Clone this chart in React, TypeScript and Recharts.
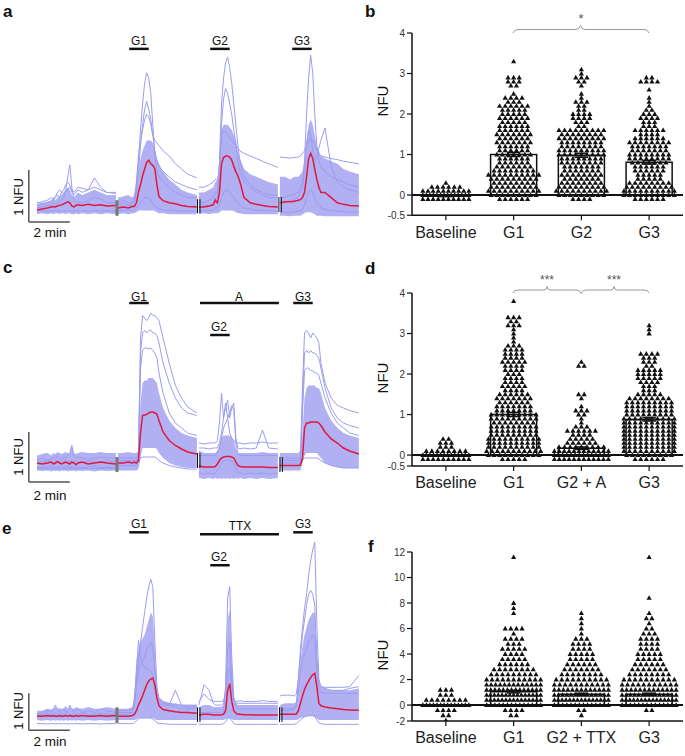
import React from 'react';
import { ComposedChart, Area, Line, XAxis, YAxis, ReferenceLine, ReferenceArea, ScatterChart, Scatter } from 'recharts';

const FONT = '"Liberation Sans", Arial, Helvetica, sans-serif';
const BLUE = '#9c9cef';
const BAND = '#a9a9f2';
const RED = '#e0193c';

// ---------- time grid (minutes) ----------
const REL_TIMES = [0, 0.25, 0.5, 0.7, 0.8, 0.9, 1.0, 1.1, 1.2, 1.3, 1.4, 1.5, 1.6, 1.7, 1.8, 1.9, 2.0, 2.2, 2.5, 2.8, 3.1, 3.4, 3.85];
const SEG_STARTS = [0, 3.95, 7.9, 11.85];

// ---------- panel a traces (NFU) ----------
const A_MEAN = [
  [-0.04,-0.02,0.0,0.02,0.03,0.02,0.04,0.05,0.06,0.08,0.1,0.12,0.1,0.04,0.02,0.05,0.06,0.05,0.07,0.05,0.06,0.04,0.05],
  [0.0,0.02,0.0,0.03,0.03,0.1,0.3,0.45,0.62,0.75,0.88,0.92,0.85,0.82,0.75,0.45,0.22,0.14,0.1,0.08,0.05,0.03,0.02],
  [0.02,0.02,0.04,0.06,0.15,0.1,0.3,0.85,0.97,1.0,1.0,0.98,0.92,0.8,0.7,0.62,0.5,0.2,0.1,0.07,0.05,0.03,0.02],
  [0.1,0.12,0.12,0.13,0.14,0.15,0.16,0.2,0.3,0.6,0.95,1.05,0.95,0.75,0.55,0.4,0.3,0.3,0.2,0.1,0.07,0.05,0.04],
];
const A_LO = [
  [-0.12,-0.1,-0.12,-0.1,-0.12,-0.1,-0.1,-0.12,-0.1,-0.1,-0.12,-0.1,-0.1,-0.12,-0.12,-0.1,-0.12,-0.1,-0.12,-0.1,-0.12,-0.1,-0.12],
  [-0.12,-0.1,-0.12,-0.1,-0.1,-0.08,-0.05,-0.05,-0.05,-0.05,-0.05,-0.05,-0.05,-0.05,-0.06,-0.08,-0.1,-0.1,-0.12,-0.12,-0.12,-0.12,-0.12],
  [-0.12,-0.1,-0.12,-0.1,-0.1,-0.1,-0.08,-0.05,-0.05,-0.05,-0.05,-0.05,-0.05,-0.06,-0.08,-0.1,-0.1,-0.12,-0.12,-0.12,-0.12,-0.12,-0.12],
  [-0.15,-0.15,-0.16,-0.15,-0.15,-0.15,-0.15,-0.12,-0.1,-0.08,-0.08,-0.08,-0.1,-0.12,-0.15,-0.15,-0.15,-0.16,-0.16,-0.16,-0.16,-0.16,-0.16],
];
const A_HI = [
  [0.08,0.1,0.12,0.15,0.2,0.15,0.2,0.22,0.25,0.3,0.35,0.4,0.35,0.25,0.2,0.25,0.3,0.25,0.3,0.35,0.3,0.25,0.25],
  [0.2,0.22,0.25,0.2,0.25,0.4,0.7,0.95,1.1,1.2,1.3,1.3,1.3,1.25,1.1,0.95,0.85,0.7,0.55,0.45,0.35,0.3,0.25],
  [0.3,0.3,0.35,0.4,0.5,0.5,0.8,1.5,1.6,1.6,1.6,1.55,1.5,1.4,1.3,1.1,0.95,0.75,0.65,0.6,0.55,0.5,0.45],
  [0.6,0.6,0.55,0.6,0.6,0.6,0.65,0.7,0.9,1.3,1.6,1.7,1.6,1.4,1.2,1.1,1.0,0.95,0.9,0.85,0.75,0.7,0.65],
];
const A_L1 = [
  [0.0,0.02,0.05,0.05,0.1,0.08,0.1,0.12,0.15,0.2,0.35,0.6,0.83,0.4,0.15,0.1,0.12,0.1,0.15,0.2,0.18,0.1,0.1],
  [0.05,0.1,0.05,0.1,0.15,0.4,0.9,1.5,2.0,2.4,2.6,2.5,2.2,1.6,1.0,0.7,0.6,0.5,0.4,0.3,0.25,0.2,0.2],
  [0.1,0.1,0.15,0.2,0.3,0.3,0.9,2.0,2.5,2.8,2.9,2.7,2.4,2.0,1.6,1.2,0.9,0.6,0.45,0.35,0.3,0.25,0.25],
  [0.2,0.2,0.25,0.25,0.3,0.3,0.4,0.5,0.9,1.8,2.5,2.94,2.6,1.8,1.2,0.9,0.8,0.7,0.6,0.55,0.5,0.45,0.4],
];
const A_L2 = [
  [0.05,0.08,0.1,0.12,0.15,0.2,0.25,0.2,0.3,0.35,0.45,0.5,0.45,0.3,0.25,0.3,0.35,0.3,0.35,0.58,0.4,0.3,0.3],
  [0.1,0.15,0.1,0.1,0.2,0.5,1.0,1.3,1.5,1.7,1.8,1.75,1.6,1.4,1.3,1.25,1.2,1.1,1.0,0.85,0.75,0.65,0.58],
  [0.4,0.4,0.45,0.5,0.55,0.5,0.8,1.4,1.5,1.45,1.4,1.35,1.3,1.25,1.2,1.15,1.1,1.05,1.0,0.95,0.9,0.85,0.78],
  [0.98,0.97,0.96,0.97,0.97,0.98,1.0,1.05,1.1,1.2,1.3,1.35,1.3,1.2,1.1,1.05,1.0,0.98,0.95,0.93,0.9,0.88,0.85],
];
const A_L3 = [
  [0.1,0.12,0.15,0.2,0.18,0.22,0.3,0.35,0.3,0.28,0.3,0.35,0.4,0.35,0.3,0.35,0.4,0.38,0.35,0.4,0.35,0.3,0.28],
  [0.0,0.0,0.05,0.05,0.1,0.3,0.7,1.2,1.6,1.9,2.05,1.9,1.7,1.4,1.1,0.9,0.8,0.7,0.6,0.5,0.45,0.4,0.35],
  [0.0,0.05,0.05,0.1,0.2,0.2,0.6,1.6,2.1,2.3,2.2,2.0,1.8,1.5,1.2,0.9,0.7,0.5,0.4,0.3,0.25,0.2,0.2],
  [0.1,0.1,0.15,0.15,0.2,0.2,0.3,0.4,0.7,1.2,1.5,1.4,1.1,0.9,1.0,1.15,1.3,1.54,0.8,0.5,0.4,0.35,0.3],
];
const A_L4 = [
  [-0.06,-0.05,-0.06,-0.05,-0.06,-0.05,-0.06,-0.05,-0.06,-0.05,-0.06,-0.05,-0.06,-0.05,-0.06,-0.05,-0.06,-0.05,-0.06,-0.05,-0.06,-0.05,-0.06],
  [-0.05,-0.05,-0.04,-0.05,-0.04,0.0,0.05,0.1,0.15,0.2,0.2,0.18,0.15,0.1,0.05,0.0,-0.02,-0.04,-0.05,-0.05,-0.06,-0.06,-0.06],
  [-0.06,-0.05,-0.05,-0.04,0.0,0.0,0.05,0.2,0.3,0.35,0.35,0.3,0.25,0.2,0.15,0.1,0.05,0.0,-0.02,-0.04,-0.05,-0.05,-0.06],
  [-0.08,-0.08,-0.08,-0.08,-0.07,-0.06,-0.05,-0.02,0.05,0.2,0.3,0.35,0.3,0.2,0.1,0.05,0.0,-0.03,-0.05,-0.06,-0.07,-0.08,-0.08],
];

// ---------- panel c traces ----------
const C_MEAN = [
  [0.0,-0.02,0.0,0.02,-0.02,0.0,0.03,0.0,-0.02,0.0,0.02,0.0,-0.02,0.02,0.0,-0.03,0.0,0.02,-0.02,0.0,0.02,0.0,-0.02],
  [0.0,0.0,0.02,0.0,0.02,0.0,0.05,0.6,0.95,0.96,0.97,1.0,1.02,1.02,1.0,0.98,0.85,0.62,0.45,0.35,0.28,0.22,0.18],
  [-0.06,-0.08,-0.08,-0.08,-0.07,-0.02,0.05,0.1,0.12,0.13,0.13,0.13,0.12,0.1,0.02,-0.05,-0.07,-0.08,-0.08,-0.08,-0.08,-0.09,-0.09],
  [-0.05,-0.05,-0.05,-0.05,-0.05,-0.05,-0.04,0.1,0.7,0.8,0.8,0.82,0.82,0.82,0.82,0.8,0.75,0.62,0.48,0.4,0.3,0.24,0.18],
];
const C_LO = [
  [-0.15,-0.16,-0.15,-0.17,-0.15,-0.16,-0.15,-0.17,-0.15,-0.16,-0.15,-0.17,-0.15,-0.16,-0.15,-0.17,-0.15,-0.16,-0.15,-0.17,-0.15,-0.16,-0.15],
  [-0.15,-0.15,-0.15,-0.15,-0.15,-0.15,-0.12,0.1,0.3,0.3,0.3,0.3,0.3,0.3,0.3,0.28,0.2,0.1,0.0,-0.05,-0.08,-0.1,-0.1],
  [-0.3,-0.32,-0.3,-0.32,-0.3,-0.32,-0.3,-0.32,-0.3,-0.32,-0.3,-0.32,-0.3,-0.32,-0.3,-0.32,-0.3,-0.32,-0.3,-0.32,-0.3,-0.32,-0.3],
  [-0.15,-0.15,-0.15,-0.15,-0.15,-0.15,-0.15,0.0,0.15,0.2,0.2,0.2,0.2,0.2,0.2,0.15,0.1,0.0,-0.05,-0.08,-0.1,-0.1,-0.1],
];
const C_HI = [
  [0.15,0.18,0.2,0.15,0.2,0.18,0.22,0.2,0.18,0.2,0.22,0.2,0.2,0.35,0.2,0.18,0.2,0.22,0.2,0.2,0.22,0.2,0.2],
  [0.2,0.2,0.22,0.2,0.2,0.2,0.25,1.2,1.6,1.65,1.65,1.7,1.7,1.7,1.65,1.6,1.4,1.1,0.85,0.7,0.6,0.55,0.5],
  [0.25,0.2,0.2,0.2,0.2,0.25,0.35,0.5,0.55,0.55,0.55,0.55,0.5,0.45,0.3,0.2,0.2,0.2,0.2,0.2,0.22,0.2,0.2],
  [0.2,0.2,0.2,0.2,0.2,0.2,0.25,0.6,1.3,1.5,1.55,1.55,1.55,1.55,1.5,1.5,1.4,1.1,0.85,0.7,0.6,0.55,0.5],
];
const C_L1 = [
  [0.05,0.1,0.05,0.08,0.12,0.1,0.15,0.1,0.08,0.12,0.1,0.15,0.2,0.35,0.15,0.1,0.12,0.1,0.08,0.1,0.12,0.1,0.1],
  [0.1,0.1,0.1,0.1,0.1,0.1,0.2,2.5,2.95,2.9,2.85,2.9,3.0,2.95,2.95,2.9,2.85,2.5,2.0,1.55,1.3,1.12,1.0],
  [0.4,0.38,0.4,0.4,0.4,0.45,0.8,1.4,0.9,1.2,0.9,0.6,0.5,0.45,0.4,0.4,0.4,0.38,0.4,0.4,0.42,0.4,0.4],
  [0.1,0.1,0.1,0.1,0.1,0.1,0.1,1.5,2.6,2.65,2.6,2.5,2.6,2.55,2.5,2.4,2.0,1.6,1.3,1.15,1.1,1.05,1.0],
];
const C_L2 = [
  [0.0,0.02,0.05,0.02,0.0,0.05,0.02,0.0,0.05,0.08,0.05,0.02,0.05,0.0,0.02,0.05,0.02,0.0,0.05,0.02,0.0,0.05,0.02],
  [0.05,0.05,0.05,0.05,0.05,0.05,0.15,2.2,2.6,2.65,2.6,2.65,2.66,2.6,2.6,2.55,2.4,2.0,1.6,1.3,1.1,1.0,0.95],
  [0.3,0.3,0.28,0.3,0.3,0.3,0.4,0.6,0.9,1.1,1.26,0.9,1.1,1.2,0.5,0.3,0.28,0.3,0.28,0.3,0.66,0.3,0.28],
  [0.05,0.05,0.05,0.05,0.05,0.05,0.05,1.2,2.2,2.25,2.2,2.25,2.2,2.2,2.15,2.1,1.9,1.5,1.1,0.9,0.8,0.75,0.7],
];
const C_L3 = [
  [-0.08,-0.1,-0.08,-0.05,-0.1,-0.08,-0.1,-0.05,-0.08,-0.1,-0.08,-0.05,-0.1,-0.08,-0.1,-0.05,-0.08,-0.1,-0.08,-0.05,-0.1,-0.08,-0.1],
  [0.0,0.0,0.0,0.0,0.0,0.0,0.1,1.9,2.25,2.3,2.3,2.28,2.3,2.25,2.2,2.1,1.8,1.4,1.0,0.8,0.7,0.6,0.55],
  [-0.2,-0.22,-0.2,-0.22,-0.2,-0.15,-0.1,0.0,0.05,0.05,0.05,0.05,0.05,0.0,-0.1,-0.18,-0.2,-0.22,-0.2,-0.22,-0.2,-0.22,-0.2],
  [0.0,0.0,0.0,0.0,0.0,0.0,0.0,1.0,1.85,1.9,1.9,1.85,1.85,1.8,1.8,1.75,1.6,1.3,1.0,0.8,0.7,0.6,0.55],
];
const C_L4 = [
  [-0.12,-0.1,-0.12,-0.1,-0.12,-0.1,-0.12,-0.1,-0.12,-0.1,-0.12,-0.1,-0.12,-0.1,-0.12,-0.1,-0.12,-0.1,-0.12,-0.1,-0.12,-0.1,-0.12],
  [-0.05,-0.05,-0.05,-0.05,-0.05,-0.05,0.0,0.1,0.12,0.12,0.12,0.12,0.12,0.12,0.12,0.1,0.05,0.0,-0.05,-0.08,-0.1,-0.12,-0.12],
  [0.15,0.15,0.15,0.15,0.15,0.2,0.3,0.5,0.7,0.8,0.9,1.0,1.15,1.05,0.4,0.2,0.15,0.15,0.15,0.15,0.15,0.15,0.15],
  [-0.05,-0.05,-0.05,-0.05,-0.05,-0.05,-0.05,0.05,0.1,0.1,0.1,0.1,0.1,0.1,0.1,0.08,0.05,0.0,-0.05,-0.08,-0.1,-0.1,-0.1],
];

// ---------- panel e traces ----------
const E_MEAN = [
  [0.0,0.0,0.02,0.0,0.02,0.0,0.0,0.02,0.0,0.0,0.02,0.0,0.02,0.0,0.0,0.02,0.0,0.02,0.0,0.0,0.02,0.0,0.02],
  [0.0,0.0,0.0,0.02,0.05,0.15,0.3,0.42,0.55,0.7,0.85,0.95,1.0,1.03,0.85,0.5,0.28,0.18,0.15,0.12,0.1,0.1,0.08],
  [0.03,0.05,0.05,0.03,0.03,0.03,0.03,0.04,0.05,0.15,0.7,0.88,0.4,0.15,0.08,0.05,0.05,0.04,0.04,0.03,0.03,0.03,0.03],
  [0.05,0.05,0.05,0.05,0.06,0.15,0.35,0.55,0.72,0.85,0.95,1.05,1.12,1.16,0.8,0.35,0.28,0.25,0.22,0.2,0.18,0.17,0.16],
];
const E_LO = [
  [-0.1,-0.12,-0.1,-0.12,-0.1,-0.12,-0.1,-0.12,-0.1,-0.12,-0.1,-0.12,-0.1,-0.12,-0.1,-0.12,-0.1,-0.12,-0.1,-0.12,-0.1,-0.12,-0.1],
  [-0.1,-0.1,-0.1,-0.1,-0.1,-0.08,-0.05,-0.05,-0.05,-0.05,-0.05,-0.05,-0.05,-0.05,-0.08,-0.1,-0.1,-0.1,-0.1,-0.1,-0.1,-0.1,-0.1],
  [-0.1,-0.1,-0.1,-0.1,-0.1,-0.1,-0.1,-0.1,-0.1,-0.08,-0.05,-0.05,-0.08,-0.1,-0.1,-0.1,-0.1,-0.1,-0.1,-0.1,-0.1,-0.1,-0.1],
  [-0.1,-0.1,-0.1,-0.1,-0.1,-0.08,-0.05,-0.03,-0.02,0.0,0.0,0.0,0.0,-0.02,-0.06,-0.1,-0.1,-0.1,-0.1,-0.1,-0.1,-0.1,-0.1],
];
const E_HI = [
  [0.15,0.15,0.2,0.18,0.2,0.25,0.2,0.22,0.2,0.2,0.28,0.2,0.25,0.2,0.2,0.25,0.22,0.2,0.25,0.2,0.2,0.25,0.2],
  [0.2,0.2,0.2,0.25,0.6,1.5,1.8,2.0,2.1,2.2,2.4,2.6,2.8,2.7,1.8,0.7,0.5,0.4,0.35,0.35,0.3,0.3,0.3],
  [0.25,0.3,0.3,0.25,0.25,0.25,0.25,0.25,0.3,0.6,2.6,2.9,1.5,0.5,0.35,0.3,0.3,0.3,0.3,0.3,0.3,0.3,0.3],
  [0.3,0.35,0.35,0.35,0.4,0.8,1.5,1.9,2.2,2.4,2.6,2.7,2.8,2.8,1.8,0.9,0.8,0.75,0.7,0.7,0.7,0.7,0.75],
];
const E_L1 = [
  [0.05,0.1,0.15,0.1,0.2,0.3,0.15,0.1,0.15,0.2,0.1,0.15,0.3,0.2,0.1,0.15,0.2,0.1,0.15,0.1,0.2,0.15,0.1],
  [0.1,0.1,0.1,0.1,0.3,1.0,1.5,2.0,2.4,2.8,3.2,3.5,3.7,3.5,2.0,0.8,0.5,0.4,0.35,0.3,0.3,0.3,0.3],
  [0.1,0.1,0.1,0.1,0.1,0.1,0.1,0.1,0.15,0.8,3.2,3.5,1.6,0.5,0.3,0.2,0.2,0.2,0.2,0.2,0.2,0.2,0.2],
  [0.2,0.2,0.2,0.2,0.3,1.0,1.8,2.4,2.9,3.3,3.8,4.2,4.5,4.7,2.5,1.0,0.8,0.75,0.7,0.7,0.7,0.75,0.8],
];
const E_L2 = [
  [0.05,0.05,0.08,0.05,0.05,0.1,0.05,0.05,0.08,0.05,0.05,0.1,0.05,0.05,0.08,0.05,0.05,0.1,0.05,0.05,0.08,0.05,0.05],
  [0.05,0.05,0.05,0.1,0.4,1.2,2.05,1.6,1.4,1.3,1.3,1.25,1.2,1.1,0.7,0.45,0.43,0.35,0.3,0.25,0.2,0.2,0.2],
  [0.3,0.85,0.7,0.35,0.3,0.3,0.3,0.3,0.35,0.7,1.8,2.0,1.0,0.45,0.35,0.35,0.35,0.35,0.35,0.35,0.35,0.35,0.35],
  [0.55,0.57,0.57,0.55,0.6,1.0,1.6,2.2,2.6,3.0,3.3,3.4,3.3,3.0,1.6,0.9,0.8,0.78,0.78,0.78,0.78,0.8,1.1],
];
const E_L3 = [
  [0.0,0.02,0.0,0.02,0.0,0.02,0.0,0.02,0.0,0.02,0.0,0.02,0.0,0.02,0.0,0.02,0.0,0.02,0.0,0.02,0.0,0.02,0.0],
  [0.15,0.15,0.15,0.2,0.3,0.8,1.2,1.4,1.5,1.6,1.8,1.9,2.0,1.9,1.2,0.5,0.35,0.3,0.3,0.7,0.3,0.25,0.25],
  [0.4,0.6,0.45,0.4,0.4,0.4,0.4,0.4,0.42,0.6,1.2,1.3,0.8,0.45,0.4,0.4,0.42,0.4,0.4,0.4,0.42,0.4,0.4],
  [0.15,0.15,0.15,0.2,0.3,0.7,1.2,1.5,1.7,1.8,2.0,2.1,2.2,2.1,1.2,0.7,0.65,0.62,0.62,0.62,0.62,0.62,0.62],
];
const E_L4 = [
  [-0.2,-0.2,-0.21,-0.2,-0.2,-0.21,-0.2,-0.2,-0.21,-0.2,-0.2,-0.21,-0.2,-0.2,-0.21,-0.2,-0.2,-0.21,-0.2,-0.2,-0.21,-0.2,-0.2],
  [-0.2,-0.2,-0.2,-0.2,-0.18,-0.12,-0.08,-0.05,-0.05,-0.05,-0.05,-0.05,-0.05,-0.08,-0.12,-0.18,-0.2,-0.2,-0.22,-0.22,-0.22,-0.22,-0.22],
  [-0.22,-0.22,-0.22,-0.22,-0.22,-0.22,-0.22,-0.22,-0.2,-0.15,-0.05,-0.05,-0.12,-0.2,-0.22,-0.22,-0.22,-0.22,-0.22,-0.22,-0.22,-0.22,-0.22],
  [-0.22,-0.22,-0.22,-0.22,-0.2,-0.15,-0.1,-0.05,-0.02,0.0,0.02,0.02,0.02,0.0,-0.1,-0.18,-0.2,-0.22,-0.22,-0.22,-0.22,-0.22,-0.22],
];

// ---------- swarm panels: counts of cells per value row ----------
const CATS_B = ['Baseline', 'G1', 'G2', 'G3'];
const CATS_D = ['Baseline', 'G1', 'G2 + A', 'G3'];
const CATS_F = ['Baseline', 'G1', 'G2 + TTX', 'G3'];

// panel b: rows every 0.1 NFU
const B_BASE = [10, 14, 10, 6, 1]; // from -0.1
const B_G1 = [6,9,10,9,8,9,10,8,7,6,6,7,6,6,7,6,7,6,6,5,6,5,5,6,3,4,1,0,2,3,3,0,0,0,1]; // from -0.1
const B_G2 = [4,9,10,9,8,7,8,7,7,8,8,9,9,8,8,9,8,9,2,3,4,4,2,2,3,1,1,0,1,2,3,1,1];
const B_G3 = [6,10,10,9,8,5,5,6,6,7,8,8,7,7,8,6,4,6,3,3,4,3,2,1,1,1,0,1,0,4,2];
const B_MEANS = [-0.03, 1.0, 0.98, 0.81];
const B_SEM = [0.01, 0.05, 0.05, 0.045];

// panel d
const D_BASE = [10, 14, 8, 3, 3, 2];
const D_G1 = [5,10,11,10,10,10,9,9,9,8,9,9,7,7,6,7,6,4,5,4,4,3,4,4,5,4,4,4,3,1,1,1,1,3,2,3,0,0,0,1];
const D_G2 = [12,14,12,9,6,5,4,6,3,1,1,2,3,1,0,1,2,0,0,0,0,0,0,2,1];
const D_G3 = [6,9,10,10,10,10,10,10,10,10,10,9,9,9,9,8,5,3,3,4,5,5,5,2,3,3,4,0,0,0,0,1,1,1];
const D_MEANS = [-0.01, 1.0, 0.17, 0.88];
const D_SEM = [0.01, 0.05, 0.03, 0.04];

// panel f: rows every 0.4 NFU
const F_BASE = [1, 2, 4, 14, 8, 3, 3]; // from -1.2
const F_G1 = [2,4,14,15,15,14,13,11,9,8,6,5,4,5,3,4,1,4,0,0,1,1,1,0,0,0,0,0,0,0,0,1]; // from -0.8
const F_G2 = [1,2,14,15,14,13,11,10,8,7,6,5,5,4,4,3,1,1,1,1,1]; // from -0.8
const F_G3 = [2,14,15,14,13,11,10,8,7,6,5,5,4,4,4,3,2,1,2,1,0,0,1,0,0,0,0,0,0,0,1]; // from -0.4
const F_MEANS = [-0.02, 1.05, 0.85, 0.85];
const F_SEM = [0.03, 0.1, 0.08, 0.08];

// ---------- helpers ----------
function buildRows(mean: number[][], lo: number[][], hi: number[][], lines: number[][][]) {
  const rows: any[] = [];
  SEG_STARTS.forEach((s, k) => {
    REL_TIMES.forEach((r, i) => {
      const row: any = { t: s + r, mean: mean[k][i], band: [lo[k][i], hi[k][i]] };
      lines.forEach((l, j) => { row['l' + j] = l[k][i]; });
      rows.push(row);
    });
    if (k < 3) rows.push({ t: s + 3.9 });
  });
  return rows;
}

const PX_PER_CAT = 67.75;
function swarm(counts: number[], start: number, binW: number, cat: number, maxW: number) {
  const pts: any[] = [];
  counts.forEach((n, j) => {
    if (!n) return;
    const y = start + j * binW;
    const s = n > 1 ? Math.min(5.6, maxW / (n - 1)) : 0;
    for (let k = 0; k < n; k++) {
      const off = (k - (n - 1) / 2) * s;
      pts.push({ x: cat + off / PX_PER_CAT, y });
    }
  });
  return pts;
}

const Tri = (p: any) => {
  const { cx, cy } = p;
  if (cx == null || cy == null) return <g />;
  return <path d={`M${cx},${cy - 2.7}L${cx + 2.6},${cy + 1.9}L${cx - 2.6},${cy + 1.9}Z`} fill="#111" />;
};

type Mark = [number, number, number, number, string, number];

function TracePanel(props: { plotTop: number; plotBottom: number; domain: [number, number]; rows: any[]; marks: Mark[] }) {
  const { plotTop, plotBottom, domain, rows, marks } = props;
  const h = plotBottom - plotTop + 8;
  return (
    <div style={{ position: 'absolute', left: 0, top: plotTop - 4 }}>
      <ComposedChart width={370} height={h} data={rows} margin={{ top: 4, bottom: 4, left: 26.75, right: 5 }}>
        <XAxis type="number" dataKey="t" domain={[-0.5, 16]} hide allowDataOverflow />
        <YAxis type="number" domain={domain} hide allowDataOverflow />
        <Area dataKey="band" type="linear" stroke="none" fill={BAND} fillOpacity={0.92} isAnimationActive={false} activeDot={false} />
        {['l0', 'l1', 'l2', 'l3'].map((k) => (
          <Line key={k} dataKey={k} type="linear" stroke={BLUE} strokeWidth={1} dot={false} activeDot={false} isAnimationActive={false} />
        ))}
        <Line dataKey="mean" type="linear" stroke={RED} strokeWidth={1.5} dot={false} activeDot={false} isAnimationActive={false} />
        {marks.map((m, i) => (
          <ReferenceLine key={i} segment={[{ x: m[0], y: m[1] }, { x: m[2], y: m[3] }]} stroke={m[4]} strokeWidth={m[5]} ifOverflow="visible" />
        ))}
      </ComposedChart>
    </div>
  );
}

function SwarmPanel(props: {
  top: number; height: number; plotTop: number; plotBottom: number; domain: [number, number]; ticks: number[];
  fmt: (v: number) => string; cats: string[]; counts: number[][]; starts: number[]; binW: number; means: number[]; sems: number[];
}) {
  const { top, height, plotTop, plotBottom, domain, ticks, fmt, cats, counts, starts, binW, means, sems } = props;
  const pts = counts.map((c, i) => swarm(c, starts[i], binW, i, i === 0 ? 46 : 54));
  const axisStyle = { stroke: '#111', strokeWidth: 1.5 };
  return (
    <div style={{ position: 'absolute', left: 340, top }}>
      <ScatterChart width={345} height={height}
        margin={{ top: plotTop - top, right: 2, left: 42, bottom: height - (plotBottom - top) - 30 }}>
        <XAxis type="number" dataKey="x" domain={[-0.5, 3.5]} ticks={[0, 1, 2, 3]} interval={0}
          tickFormatter={(v: number) => cats[Math.round(v)]} height={30} tickSize={5} tickMargin={6}
          axisLine={axisStyle} tickLine={{ stroke: '#111', strokeWidth: 1.2 }}
          tick={{ fontSize: 16, fill: '#222', fontFamily: FONT }} allowDataOverflow />
        <YAxis type="number" dataKey="y" domain={domain} ticks={ticks} interval={0} tickFormatter={fmt}
          width={30} tickSize={5} tickMargin={2} axisLine={axisStyle} tickLine={{ stroke: '#111', strokeWidth: 1.2 }}
          tick={{ fontSize: 10, fill: '#333', fontFamily: FONT }} allowDataOverflow />
        <ReferenceLine y={0} stroke="#111" strokeWidth={2} />
        {pts.map((p, i) => (
          <Scatter key={i} data={p} shape={Tri} isAnimationActive={false} />
        ))}
        {means.map((m, i) => (
          <ReferenceArea key={'bar' + i} x1={i - 0.34} x2={i + 0.34} y1={0} y2={m} fill="none" fillOpacity={0}
            stroke="#111" strokeWidth={1.5} ifOverflow="visible" />
        ))}
        {means.map((m, i) => (
          <ReferenceLine key={'sv' + i} segment={[{ x: i, y: m - sems[i] }, { x: i, y: m + sems[i] }]} stroke="#111" strokeWidth={1.5} ifOverflow="visible" />
        ))}
        {means.map((m, i) => (
          <ReferenceLine key={'st' + i} segment={[{ x: i - 0.1, y: m + sems[i] }, { x: i + 0.1, y: m + sems[i] }]} stroke="#111" strokeWidth={1.5} ifOverflow="visible" />
        ))}
        {means.map((m, i) => (
          <ReferenceLine key={'sb' + i} segment={[{ x: i - 0.1, y: m - sems[i] }, { x: i + 0.1, y: m - sems[i] }]} stroke="#111" strokeWidth={1.5} ifOverflow="visible" />
        ))}
      </ScatterChart>
    </div>
  );
}

const K = '#111';
const G = '#777';
const S = '#555';

const MARKS_A: Mark[] = [
  [-0.4, -0.27, -0.4, 0.73, S, 1.5], [-0.4, -0.27, 1.6, -0.27, S, 1.5],
  [3.9, -0.15, 3.9, 0.15, G, 3], [7.83, -0.1, 7.83, 0.17, K, 1], [7.95, -0.1, 7.95, 0.17, K, 1],
  [11.8, -0.08, 11.8, 0.21, K, 1], [11.92, -0.08, 11.92, 0.21, K, 1],
  [4.5, 3.06, 5.45, 3.06, K, 2.5], [8.45, 3.06, 9.4, 3.06, K, 2.5], [12.45, 3.06, 13.4, 3.06, K, 2.5],
];
const MARKS_C: Mark[] = [
  [-0.4, -0.38, -0.4, 0.62, S, 1.5], [-0.4, -0.38, 1.6, -0.38, S, 1.5],
  [3.9, -0.18, 3.9, 0.12, G, 3], [7.83, -0.1, 7.83, 0.2, K, 1], [7.95, -0.1, 7.95, 0.2, K, 1],
  [11.85, -0.18, 11.85, 0.12, K, 1], [11.97, -0.18, 11.97, 0.12, K, 1],
  [4.5, 3.2, 5.45, 3.2, K, 2.5], [7.95, 3.2, 11.8, 3.2, K, 2.5], [12.5, 3.2, 13.45, 3.2, K, 2.5],
  [8.45, 2.56, 9.4, 2.56, K, 2.5],
];
const MARKS_E: Mark[] = [
  [-0.4, -0.38, -0.4, 0.62, S, 1.5], [-0.4, -0.38, 1.6, -0.38, S, 1.5],
  [3.9, -0.19, 3.9, 0.24, G, 3], [7.83, -0.16, 7.83, 0.24, K, 1], [7.95, -0.16, 7.95, 0.24, K, 1],
  [11.83, -0.16, 11.83, 0.24, K, 1], [11.95, -0.16, 11.95, 0.24, K, 1],
  [4.5, 4.97, 5.45, 4.97, K, 2.5], [7.95, 4.92, 11.8, 4.92, K, 2.5], [12.5, 4.97, 13.45, 4.97, K, 2.5],
  [8.45, 4.08, 9.4, 4.08, K, 2.5],
];

function Overlay() {
  const t = { fontFamily: FONT, fill: '#111' } as any;
  const lab = (x: number, y: number, s: string) => (
    <text x={x} y={y} textAnchor="middle" fontSize={12} {...t}>{s}</text>
  );
  const nfu = (x: number, y: number, s: string, fs: number) => (
    <text transform={`translate(${x},${y}) rotate(-90)`} textAnchor="middle" dominantBaseline="central" fontSize={fs} {...t}>{s}</text>
  );
  const min2 = (y: number) => <text x={50} y={y} textAnchor="middle" fontSize={13.5} {...t}>2 min</text>;
  const letter = (x: number, y: number, s: string) => (
    <text x={x} y={y} fontSize={17} fontWeight="bold" {...t}>{s}</text>
  );
  return (
    <svg width={685} height={756} style={{ position: 'absolute', left: 0, top: 0, pointerEvents: 'none' }}>
      {letter(3, 17, 'a')}{letter(365, 17, 'b')}{letter(3, 273, 'c')}{letter(365, 274, 'd')}{letter(2, 534, 'e')}{letter(368, 552, 'f')}
      {lab(139, 45, 'G1')}{lab(220, 45, 'G2')}{lab(302, 45, 'G3')}
      {lab(139, 301, 'G1')}{lab(239, 301, 'A')}{lab(303, 301, 'G3')}{lab(219, 331, 'G2')}
      {lab(139, 528, 'G1')}{lab(240, 530, 'TTX')}{lab(303, 528, 'G3')}{lab(219, 561, 'G2')}
      {nfu(18, 197, '1 NFU', 13)}{nfu(18, 457, '1 NFU', 13)}{nfu(18, 711, '1 NFU', 13)}
      {min2(237)}{min2(500)}{min2(746)}
      {nfu(382, 101, 'NFU', 15)}{nfu(382, 378, 'NFU', 15)}{nfu(382, 655, 'NFU', 15)}
      <path d="M513,33 Q514,29.5 518,29.5 L576,29.5 Q579.5,29.5 580.5,25.5 Q581.5,29.5 585,29.5 L644,29.5 Q648,29.5 649,33" stroke="#999" fill="none" strokeWidth={1} />
      <text x={581} y={23} textAnchor="middle" fontSize={13} fontFamily={FONT} fill="#555">*</text>
      <path d="M513,293 Q514,290 518,290 L544,290 Q546.5,290 547,286.5 Q547.5,290 550,290 L576,290 Q580,290 581,293.5 Q582,290 586,290 L611,290 Q613.5,290 614,286.5 Q614.5,290 617,290 L644,290 Q648,290 649,293" stroke="#999" fill="none" strokeWidth={1} />
      <text x={547} y={284} textAnchor="middle" fontSize={12} fontFamily={FONT} fill="#555">***</text>
      <text x={614} y={284} textAnchor="middle" fontSize={12} fontFamily={FONT} fill="#555">***</text>
    </svg>
  );
}

export default function App() {
  const rowsA = buildRows(A_MEAN, A_LO, A_HI, [A_L1, A_L2, A_L3, A_L4]);
  const rowsC = buildRows(C_MEAN, C_LO, C_HI, [C_L1, C_L2, C_L3, C_L4]);
  const rowsE = buildRows(E_MEAN, E_LO, E_HI, [E_L1, E_L2, E_L3, E_L4]);
  return (
    <div style={{ position: 'absolute', left: 0, top: 0, width: 685, height: 756, background: '#fff', fontFamily: FONT, overflow: 'hidden' }}>
      <TracePanel plotTop={26} plotBottom={223.6} domain={[-0.3, 3.5]} rows={rowsA} marks={MARKS_A} />
      <TracePanel plotTop={283} plotBottom={483} domain={[-0.4, 3.6]} rows={rowsC} marks={MARKS_C} />
      <TracePanel plotTop={508.8} plotBottom={730.8} domain={[-0.4, 5.6]} rows={rowsE} marks={MARKS_E} />
      <SwarmPanel top={0} height={250} plotTop={33} plotBottom={215.25} domain={[-0.5, 4]} ticks={[-0.5, 0, 1, 2, 3, 4]}
        fmt={(v: number) => String(v)} cats={CATS_B} counts={[B_BASE, B_G1, B_G2, B_G3]} starts={[-0.1, -0.1, -0.1, -0.1]}
        binW={0.1} means={B_MEANS} sems={B_SEM} />
      <SwarmPanel top={250} height={250} plotTop={293} plotBottom={466} domain={[-0.27, 4]} ticks={[-0.27, 0, 1, 2, 3, 4]}
        fmt={(v: number) => (v < 0 ? '-0.5' : String(v))} cats={CATS_D} counts={[D_BASE, D_G1, D_G2, D_G3]} starts={[-0.1, -0.1, -0.1, -0.1]}
        binW={0.1} means={D_MEANS} sems={D_SEM} />
      <SwarmPanel top={500} height={256} plotTop={552} plotBottom={721} domain={[-1.25, 12]} ticks={[-1.25, 0, 2, 4, 6, 8, 10, 12]}
        fmt={(v: number) => (v < 0 ? '-2' : String(v))} cats={CATS_F} counts={[F_BASE, F_G1, F_G2, F_G3]} starts={[-1.2, -0.8, -0.8, -0.4]}
        binW={0.4} means={F_MEANS} sems={F_SEM} />
      <Overlay />
    </div>
  );
}
